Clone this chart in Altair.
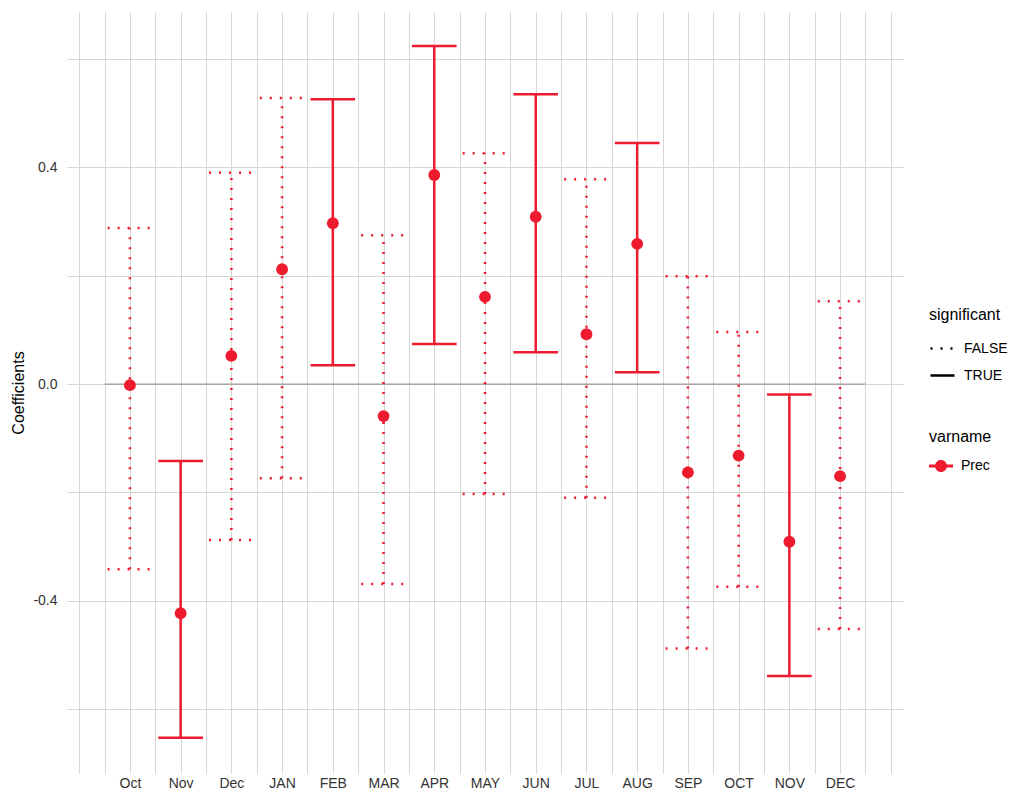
import altair as alt
import pandas as pd
import numpy as np

months = ["Oct", "Nov", "Dec", "JAN", "FEB", "MAR", "APR", "MAY",
          "JUN", "JUL", "AUG", "SEP", "OCT", "NOV", "DEC"]
estimate = [-0.002, -0.423, 0.052, 0.212, 0.297, -0.059, 0.386, 0.161,
            0.309, 0.092, 0.259, -0.163, -0.132, -0.291, -0.170]
lower = [-0.342, -0.653, -0.288, -0.174, 0.035, -0.369, 0.074, -0.203,
         0.059, -0.210, 0.022, -0.488, -0.374, -0.539, -0.452]
upper = [0.288, -0.142, 0.390, 0.528, 0.526, 0.275, 0.624, 0.426,
         0.535, 0.378, 0.445, 0.199, 0.096, -0.019, 0.153]
significant = ["FALSE", "TRUE", "FALSE", "FALSE", "TRUE", "FALSE", "TRUE", "FALSE",
               "TRUE", "FALSE", "TRUE", "FALSE", "FALSE", "TRUE", "FALSE"]
varname = ["Prec"] * len(months)

RED = "#EE1B2E"
GRID = "#D8D5D5"
FONT = "Liberation Sans"

df = pd.DataFrame({
    "idx": np.arange(1, len(months) + 1),
    "month": months,
    "estimate": estimate,
    "lower": lower,
    "upper": upper,
    "significant": significant,
    "varname": varname,
})

n = len(months)
zero_df = pd.DataFrame({"y": [0.0], "x": [0.5], "x2": [n + 0.5]})

label_js = "[" + ",".join("'" + m + "'" for m in months) + "]"
x_grid_vals = [i * 0.5 for i in range(0, 2 * (n + 1) + 1)]
y_grid_vals = [-0.6, -0.4, -0.2, 0.0, 0.2, 0.4, 0.6]

x_scale = alt.Scale(domain=[-0.24, n + 1.24], nice=False, zero=False)
y_scale = alt.Scale(domain=[-0.718, 0.687], nice=False, zero=False)

x_axis = alt.Axis(
    values=x_grid_vals,
    labelExpr=label_js + "[datum.value - 1] || ''",
    title=None, grid=True, gridColor=GRID, gridWidth=1,
    ticks=False, domain=False, labelPadding=3, labelFontSize=14,
    labelColor="#333333", labelFont=FONT, labelOverlap=False, labelFlush=False,
)
y_axis = alt.Axis(
    values=y_grid_vals,
    labelExpr="abs(datum.value) < 1e-9 ? '0.0' : (abs(abs(datum.value) - 0.4) < 1e-9 ? (datum.value < 0 ? '-0.4' : '0.4') : '')",
    title="Coefficients", titleFontSize=16, titleFont=FONT, titleFontWeight="normal",
    titleColor="#000000", titlePadding=6,
    grid=True, gridColor=GRID, gridWidth=1,
    ticks=False, domain=False, labelPadding=10, labelFontSize=14,
    labelColor="#333333", labelFont=FONT,
)

base = alt.Chart(df)

dash_scale = alt.Scale(domain=["FALSE", "TRUE"], range=[[2, 8], [1, 0]])
color_scale = alt.Scale(domain=["Prec"], range=[RED])

dash_legend = alt.Legend(
    title="significant", orient="none", legendX=862, legendY=295,
    titleFontSize=16, titleFont=FONT, titleFontWeight="normal", titleColor="#000000",
    labelFontSize=14, labelFont=FONT, labelColor="#000000",
    symbolType="stroke", symbolSize=576, symbolStrokeWidth=2.5,
    symbolStrokeColor="#000000", rowPadding=6, titlePadding=12, labelOffset=8,
)
color_legend = alt.Legend(
    title="varname", orient="none", legendX=862, legendY=417,
    titleFontSize=16, titleFont=FONT, titleFontWeight="normal", titleColor="#000000",
    labelFontSize=14, labelFont=FONT, labelColor="#000000",
    symbolType="M-1,-0.125H1V0.125H-1Z M0.5,0A0.5,0.5 0 1,1 -0.5,0A0.5,0.5 0 1,1 0.5,0Z",
    symbolSize=576, symbolFillColor=RED, symbolStrokeColor=RED, symbolStrokeWidth=0,
    titlePadding=9, labelOffset=8,
)

zero_line = alt.Chart(zero_df).mark_rule(color="#8E8787", strokeWidth=1).encode(
    x=alt.X("x:Q", scale=x_scale, axis=x_axis),
    x2="x2:Q",
    y=alt.Y("y:Q", scale=y_scale, axis=y_axis),
)

bars = base.mark_rule(strokeWidth=2.5, color=RED).encode(
    x=alt.X("idx:Q", scale=x_scale, axis=x_axis),
    y=alt.Y("lower:Q", scale=y_scale, axis=y_axis),
    y2="upper:Q",
    strokeDash=alt.StrokeDash("significant:N", scale=dash_scale, legend=dash_legend),
)

caps = base.transform_fold(["lower", "upper"], as_=["end", "val"]).transform_calculate(
    xl="datum.idx - 0.44", xr="datum.idx + 0.44"
).mark_rule(strokeWidth=2.5, color=RED).encode(
    x=alt.X("xl:Q", scale=x_scale, axis=x_axis),
    x2="xr:Q",
    y=alt.Y("val:Q", scale=y_scale, axis=y_axis),
    strokeDash=alt.StrokeDash("significant:N", scale=dash_scale, legend=dash_legend),
)

points = base.mark_point(filled=True, size=140, opacity=1, shape="circle").encode(
    x=alt.X("idx:Q", scale=x_scale, axis=x_axis),
    y=alt.Y("estimate:Q", scale=y_scale, axis=y_axis),
    color=alt.Color("varname:N", scale=color_scale, legend=color_legend),
)

chart = alt.layer(zero_line, bars, caps, points).properties(
    width=836, height=761, background="white",
    autosize=alt.AutoSizeParams(type="none"),
    padding={"left": 59, "top": 4, "right": 105, "bottom": 16},
).configure_view(stroke=None)

chart.save("out.html", embed_options={"renderer": "svg", "actions": False})
